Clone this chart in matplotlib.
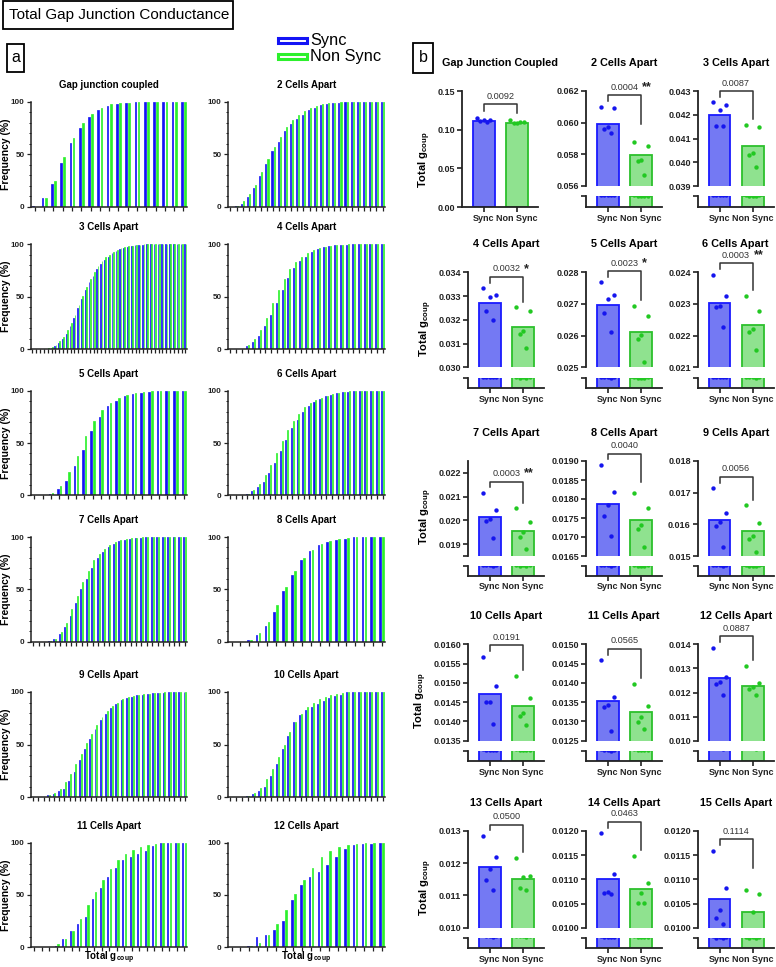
import numpy as np
import matplotlib
matplotlib.use("Agg")
import matplotlib.pyplot as plt
from matplotlib.patches import Rectangle

plt.rcParams['font.family'] = ['Liberation Sans', 'DejaVu Sans']
plt.rcParams['mathtext.fontset'] = 'custom'
plt.rcParams['mathtext.rm'] = 'Liberation Sans'
plt.rcParams['mathtext.bf'] = 'Liberation Sans:bold'
plt.rcParams['mathtext.it'] = 'Liberation Sans:italic'

# ---------------- panel a: cumulative frequency (%) per bin ----------------
cum_titles = ["Gap junction coupled", "2 Cells Apart", "3 Cells Apart", "4 Cells Apart",
              "5 Cells Apart", "6 Cells Apart", "7 Cells Apart", "8 Cells Apart",
              "9 Cells Apart", "10 Cells Apart", "11 Cells Apart", "12 Cells Apart"]

cum_sync = [
    [1, 8, 22, 42, 61, 75, 86, 92, 96, 98, 99, 100, 100, 100, 100, 100, 100],
    [0, 1, 3, 9, 18, 29, 41, 53, 62, 72, 79, 84, 88, 92, 94, 97, 98, 99, 99, 100,
     100, 100, 100, 100, 100, 100],
    [0, 0, 0, 0, 0.5, 1, 3, 6, 10, 15, 22, 30, 39, 48, 56, 64, 70, 76, 81, 85,
     88, 91, 93, 95, 96, 97, 98, 98.6, 99, 99.4, 99.7, 100, 100, 100, 100, 100,
     100, 100, 100, 100, 100],
    [0, 0, 0, 3, 7, 13, 22, 33, 44, 56, 68, 77, 84, 88, 92, 95, 97, 98, 99, 99,
     99.5, 100, 100, 100, 100, 100, 100],
    [0, 0, 1, 6, 14, 28, 43, 61, 75, 85, 90.5, 95, 97, 98, 99, 100, 100, 100, 100],
    [0, 0, 0, 1, 4, 8, 13, 21, 31, 42, 53, 64, 72, 80, 85, 89, 92, 95, 96, 98,
     98.5, 99, 99.5, 100, 100, 100, 100, 100],
    [0, 0, 0, 0.5, 3, 7, 14, 25, 37, 50, 60, 70, 80, 86, 90, 93, 96, 97.5, 98.5, 99,
     99.5, 100, 100, 100, 100, 100, 100, 100, 100],
    [0, 0, 2, 6, 15, 28, 48, 64, 78, 87, 92, 95, 97, 98.4, 100, 100, 100, 100],
    [0, 0, 0, 2, 3, 6, 8, 15, 24, 35, 46, 55, 65, 73, 79, 85, 89, 92, 94, 95,
     97, 97.5, 98, 99, 99, 99.5, 100, 100, 100, 100],
    [0, 0, 0, 0.5, 3, 6, 10, 20, 31, 46, 58, 71, 78, 83, 86, 89, 91, 94, 96, 97,
     100, 100, 100, 100, 100, 100, 100],
    [0, 0, 0, 1.3, 8, 15.6, 22, 28.8, 46.3, 57, 67, 76, 83, 86.6, 89.5, 92.3, 96.5,
     100, 100, 100, 100],
    [0, 0, 1, 9.3, 11.8, 16.3, 25.2, 45, 59.7, 67, 72, 79, 86.6, 94.2, 98, 98.5, 99, 100],
]

cum_nonsync = [
    [0, 8, 25, 47, 66, 80, 89, 94, 98, 99, 99.5, 100, 100, 100, 100, 100, 100],
    [0, 1, 5, 12, 21, 33, 46, 57, 67, 76, 83, 88, 91, 94, 96, 98, 99, 99, 100, 100,
     100, 100, 100, 100, 100, 100],
    [0, 0, 0, 0, 1, 2, 4, 8, 12, 18, 25, 33, 42, 51, 59, 67, 73, 79, 84, 88,
     90, 92, 94, 96, 97, 98, 98.5, 99, 99.4, 99.7, 100, 100, 100, 100, 100, 100,
     100, 100, 100, 100, 100],
    [0, 0, 0.5, 4, 10, 18, 30, 44, 56, 67, 76, 83, 88, 91, 94, 96, 97.5, 98.5, 99, 99.5,
     100, 100, 100, 100, 100, 100, 100],
    [0, 0, 2, 9, 22, 38, 57, 71, 81.5, 88, 93, 96, 97.5, 98.7, 99.5, 100, 100, 100, 100],
    [0, 0, 0, 1.5, 5, 11, 19, 29, 40, 52, 62, 71, 78, 84, 88, 91, 93, 95, 97, 98,
     99, 99.5, 100, 100, 100, 100, 100, 100],
    [0, 0, 0, 0.5, 3, 9, 18, 31, 44, 57, 68, 78, 84, 89, 92, 95, 97, 98, 99, 99.5,
     100, 100, 100, 100, 100, 100, 100, 100, 100],
    [0, 0, 1.6, 8, 19, 35, 52, 68, 80, 88, 93, 96, 98, 99, 99.7, 100, 100, 100],
    [0, 0, 0, 2, 3.5, 8, 14, 22, 31, 41, 51, 60, 69, 76, 82, 87, 90, 93, 95, 96.5,
     97.5, 98, 98.5, 99, 99.5, 100, 100, 100, 100, 100],
    [0, 0, 0, 1, 4, 9, 17, 27, 38, 50, 62, 71, 79.5, 86, 90, 93, 95, 97, 98, 99,
     100, 100, 100, 100, 100, 100, 100],
    [0, 0, 0, 2.5, 8, 15.6, 26.5, 40, 52.7, 64, 74.8, 83, 88.8, 93, 95.5, 97.4, 98.7,
     99.4, 100, 100, 100],
    [0, 0, 1, 4, 11.5, 21.7, 35.5, 50.5, 64, 76, 86, 92.5, 96, 98, 99, 99.5, 99.7, 100],
]

# ---------------- panel b: total g_coup per animal ----------------
b_titles = ["Gap Junction Coupled", "2 Cells Apart", "3 Cells Apart", "4 Cells Apart",
            "5 Cells Apart", "6 Cells Apart", "7 Cells Apart", "8 Cells Apart",
            "9 Cells Apart", "10 Cells Apart", "11 Cells Apart", "12 Cells Apart",
            "13 Cells Apart", "14 Cells Apart", "15 Cells Apart"]
groups = ["Sync", "Non Sync"]

sync_mean = [0.1113, 0.05994, 0.04199, 0.0327, 0.02696, 0.02304, 0.02014, 0.01788,
             0.01615, 0.0147, 0.01353, 0.01261, 0.01187, 0.01101, 0.01059]
nonsync_mean = [0.1082, 0.05794, 0.04067, 0.03168, 0.02611, 0.02235, 0.01957, 0.01746,
                0.01578, 0.0144, 0.01324, 0.01228, 0.0115, 0.01081, 0.01032]

sync_pts = [
    [0.1152, 0.1130, 0.1122, 0.1109, 0.1100],
    [0.06101, 0.06095, 0.0597, 0.0596, 0.05933],
    [0.04252, 0.04242, 0.0422, 0.04151, 0.04154],
    [0.03333, 0.03305, 0.03295, 0.03239, 0.03199],
    [0.02768, 0.02728, 0.02715, 0.02673, 0.02612],
    [0.02392, 0.02325, 0.02295, 0.0229, 0.02226],
    [0.02115, 0.02042, 0.02006, 0.01999, 0.01927],
    [0.01889, 0.01819, 0.01784, 0.01755, 0.01702],
    [0.01714, 0.01637, 0.01606, 0.01596, 0.0153],
    [0.01568, 0.01492, 0.01451, 0.0145, 0.01393],
    [0.01458, 0.01364, 0.01343, 0.01337, 0.01274],
    [0.01386, 0.01266, 0.01245, 0.01234, 0.01189],
    [0.01284, 0.0122, 0.01182, 0.01147, 0.01118],
    [0.01195, 0.01112, 0.01073, 0.01072, 0.01069],
    [0.01159, 0.01083, 0.01037, 0.0102, 0.01007],
]
nonsync_pts = [
    [0.1122, 0.1100, 0.1091, 0.1091, 0.1095],
    [0.0588, 0.05853, 0.05764, 0.0576, 0.0567],
    [0.04155, 0.04147, 0.04038, 0.0403, 0.0398],
    [0.03253, 0.03236, 0.03152, 0.03139, 0.0308],
    [0.02695, 0.02663, 0.02601, 0.02588, 0.02518],
    [0.02325, 0.02278, 0.02221, 0.02211, 0.02154],
    [0.0205, 0.01993, 0.01949, 0.01929, 0.0188],
    [0.01815, 0.01777, 0.01731, 0.01722, 0.01673],
    [0.0166, 0.01603, 0.01564, 0.01553, 0.01514],
    [0.01518, 0.01461, 0.01421, 0.01415, 0.0139],
    [0.01396, 0.0134, 0.01312, 0.01299, 0.0128],
    [0.01309, 0.01241, 0.01224, 0.01216, 0.01191],
    [0.01217, 0.0116, 0.01156, 0.01122, 0.01118],
    [0.01149, 0.01093, 0.01071, 0.01052, 0.01052],
    [0.01079, 0.01069, 0.01032, 0.0098, 0.0098],
]

p_text = ["0.0092", "0.0004", "0.0087", "0.0032", "0.0023", "0.0003", "0.0003", "0.0040",
          "0.0056", "0.0191", "0.0565", "0.0887", "0.0500", "0.0463", "0.1114"]
p_stars = ["", "**", "", "*", "*", "**", "**", "", "", "", "", "", "", "", ""]

# y axis (upper segment) ranges and tick steps
y_lo = [0, 0.056, 0.039, 0.030, 0.025, 0.021, 0.0185, 0.0165, 0.015, 0.0135, 0.0125,
        0.010, 0.010, 0.0100, 0.0100]
y_hi = [0.15, 0.062, 0.043, 0.034, 0.028, 0.024, 0.0225, 0.0190, 0.018, 0.0160, 0.0150,
        0.014, 0.013, 0.0120, 0.0120]
y_step = [0.05, 0.002, 0.001, 0.001, 0.001, 0.001, 0.001, 0.0005, 0.001, 0.0005, 0.0005,
          0.001, 0.001, 0.0005, 0.0005]
y_dec = [2, 3, 3, 3, 3, 3, 3, 4, 3, 4, 4, 3, 3, 4, 4]

# ---------------- styling / layout ----------------
W, H = 776, 967
BLUE = '#1414f5'
GREEN = '#2cf02c'
FILL_S, EDGE_S, DOT_S = '#7479f3', '#1a1aff', '#1515ee'
FILL_N, EDGE_N, DOT_N = '#8fe28f', '#2cc02c', '#22c822'
AX_COL = '#222222'
jitter = np.array([-0.2, 0.2, 0.0, -0.1, 0.1])

fig = plt.figure(figsize=(W / 100, H / 100), dpi=100)


def fbox(x0, y0, x1, y1):
    return [x0 / W, 1 - y1 / H, (x1 - x0) / W, (y1 - y0) / H]


def fpt(x, y):
    return x / W, 1 - y / H


def frame(x0, y0, x1, y1, lw=1.3):
    fig.add_artist(Rectangle(fpt(x0, y1), (x1 - x0) / W, (y1 - y0) / H,
                             transform=fig.transFigure, fill=False, lw=lw, ec='black'))


# header
frame(3, 1, 233, 29)
fig.text(*fpt(9, 15.5), 'Total Gap Junction Conductance', fontsize=11, va='center')
frame(7, 44, 24, 72)
fig.text(*fpt(15.5, 58), 'a', fontsize=11.5, ha='center', va='center')
frame(413, 43, 433, 73)
fig.text(*fpt(423, 58), 'b', fontsize=11.5, ha='center', va='center')

# legend
for k, (lab, col) in enumerate(zip(groups, [BLUE, GREEN])):
    yc = 40.5 + 16 * k
    fig.add_artist(Rectangle(fpt(278, yc + 2.6), 29 / W, 5.2 / H, transform=fig.transFigure,
                             fc='white', ec=col, lw=2.2))
    fig.text(*fpt(310, yc), lab, fontsize=11.8, va='center')

# ---- panel a ----
a_cols = [(30.7, 186.7), (227.7, 384.7)]
a_rows = [(102, 206.7), (244, 349.3), (390.7, 495.3), (537, 641.7), (692, 797), (842.7, 947)]

for i, title in enumerate(cum_titles):
    r, c = divmod(i, 2)
    x0, x1 = a_cols[c]
    y0, y1 = a_rows[r]
    ax = fig.add_axes(fbox(x0, y0, x1, y1))
    s = cum_sync[i]
    ns = cum_nonsync[i]
    x = np.arange(len(s))
    ax.bar(x - 0.17, s, 0.18, color=BLUE, edgecolor=BLUE, lw=0.5)
    ax.bar(x + 0.17, ns, 0.18, color=GREEN, edgecolor=GREEN, lw=0.5)
    ax.set_xlim(-0.45, len(s) - 0.65)
    ax.set_ylim(0, 100)
    ax.set_xticks(x, labels=[])
    ax.set_yticks([0, 50, 100], labels=['0', '50', '100'])
    ax.set_yticks(np.arange(0, 101, 10), minor=True)
    ax.tick_params(axis='both', which='major', length=2.8, width=0.9, pad=1.5,
                   labelsize=5.8, colors=AX_COL)
    ax.tick_params(axis='y', which='minor', length=1.6, width=0.7, colors=AX_COL)
    for lab in ax.get_yticklabels():
        lab.set_fontweight('bold')
    for sp in ['top', 'right']:
        ax.spines[sp].set_visible(False)
    for sp in ['left', 'bottom']:
        ax.spines[sp].set_linewidth(1.1)
        ax.spines[sp].set_color(AX_COL)
    fig.text(*fpt((x0 + x1) / 2, y0 - 17), title, ha='center', va='center',
             fontsize=7, fontweight='bold')
    if c == 0:
        fig.text(*fpt(6.5, (y0 + y1) / 2), 'Frequency (%)', rotation=90, ha='center',
                 va='center', fontsize=7.5, fontweight='bold')
    if r == len(a_rows) - 1:
        fig.text(*fpt((x0 + x1) / 2, y1 + 11), r'Total g$_{\mathbf{coup}}$', ha='center',
                 va='center', fontsize=7, fontweight='bold')

# ---- panel b ----
b_cols = [468, 586, 697.7]
b_rows = [(91, 186, 196, 207), (272.3, 367.3, 378, 388.3), (461, 556, 566, 575.5),
          (644.3, 740.7, 750.7, 761), (831, 927.7, 937.7, 947.7)]
BW = 76


def style_spines(a):
    for sp in ['top', 'right']:
        a.spines[sp].set_visible(False)
    for sp in ['left', 'bottom']:
        a.spines[sp].set_linewidth(1.3)
        a.spines[sp].set_color(AX_COL)
    a.set_facecolor('none')


for j, title in enumerate(b_titles):
    r, c = divmod(j, 3)
    x0 = b_cols[c] - (6 if j == 0 else 0)
    mt, mb, st, sb = b_rows[r]
    lo, hi = y_lo[j], y_hi[j]
    broken = lo > 0
    ax = fig.add_axes(fbox(x0, mt, x0 + BW, mb if broken else sb))
    axs = [ax]
    if broken:
        stub = fig.add_axes(fbox(x0, st, x0 + BW, sb))
        axs.append(stub)
    for a in axs:
        a.bar([0, 1], [sync_mean[j], nonsync_mean[j]], 0.654, color=[FILL_S, FILL_N],
              edgecolor=[EDGE_S, EDGE_N], linewidth=1.3, zorder=2)
        a.scatter(0 + jitter, sync_pts[j], s=10, color=DOT_S, lw=0, zorder=3)
        a.scatter(1 + jitter, nonsync_pts[j], s=10, color=DOT_N, lw=0, zorder=3)
        a.set_xlim(-0.657, 1.633)
        style_spines(a)
    ax.set_ylim(lo, hi)

    step = y_step[j]
    k0 = int(np.ceil(lo / step - 1e-6))
    k1 = int(np.floor(hi / step + 1e-6))
    ticks = [k * step for k in range(k0, k1 + 1)]
    labels = [f'{t:.{y_dec[j]}f}' for t in ticks]
    if broken and abs(ticks[0] - lo) > 1e-9:
        ticks.insert(0, lo)
        labels.insert(0, '')
    ax.set_yticks(ticks, labels=labels)
    ax.tick_params(axis='y', length=3.5, width=1.2, pad=1.5, labelsize=6.5, colors=AX_COL)
    for lab in ax.get_yticklabels():
        lab.set_fontweight('bold')

    bottom_ax = axs[-1]
    if broken:
        ax.spines['bottom'].set_visible(False)
        ax.tick_params(axis='x', bottom=False, labelbottom=False)
        stub.set_ylim(0, lo)
        stub.set_yticks([lo], labels=[''])
        stub.tick_params(axis='y', length=3.5, width=1.2, colors=AX_COL)
    bottom_ax.set_xticks([0, 1], labels=groups)
    bottom_ax.tick_params(axis='x', length=3.5, width=1.2, pad=1.5, labelsize=6.5, colors=AX_COL)
    for lab in bottom_ax.get_xticklabels():
        lab.set_fontweight('bold')

    # significance bracket
    fs = (max(sync_pts[j]) - lo) / (hi - lo)
    fn = (max(nonsync_pts[j]) - lo) / (hi - lo)
    top = max(fs, fn) + 0.12
    le = max(fs + 0.06, top - 0.3)
    re = max(fn + 0.06, top - 0.3)
    tr = ax.get_xaxis_transform()
    ax.plot([0, 0, 1, 1], [le, top, top, re], transform=tr, color='#333333', lw=1.1,
            clip_on=False, zorder=4)
    ax.annotate(p_text[j], xy=(0.5, top), xycoords=tr, xytext=(0, 2.5),
                textcoords='offset points', ha='center', va='bottom', fontsize=6.6,
                color='#333333')
    if p_stars[j]:
        ax.annotate(p_stars[j], xy=(0.5, top), xycoords=tr, xytext=(12.5, 1.5),
                    textcoords='offset points', ha='left', va='bottom', fontsize=9,
                    fontweight='bold', color='#222222')

    fig.text(*fpt(x0 + BW / 2, mt - 28), title, ha='center', va='center', fontsize=7.8,
             fontweight='bold')
    if c == 0:
        ax.set_ylabel(r'Total g$_{\mathbf{coup}}$', fontsize=8, fontweight='bold', labelpad=3)
        yc = (mt + sb) / 2 - 2
        ax.yaxis.label.set_y((mb - yc) / (mb - mt))

fig.savefig('out.png', dpi=100)
